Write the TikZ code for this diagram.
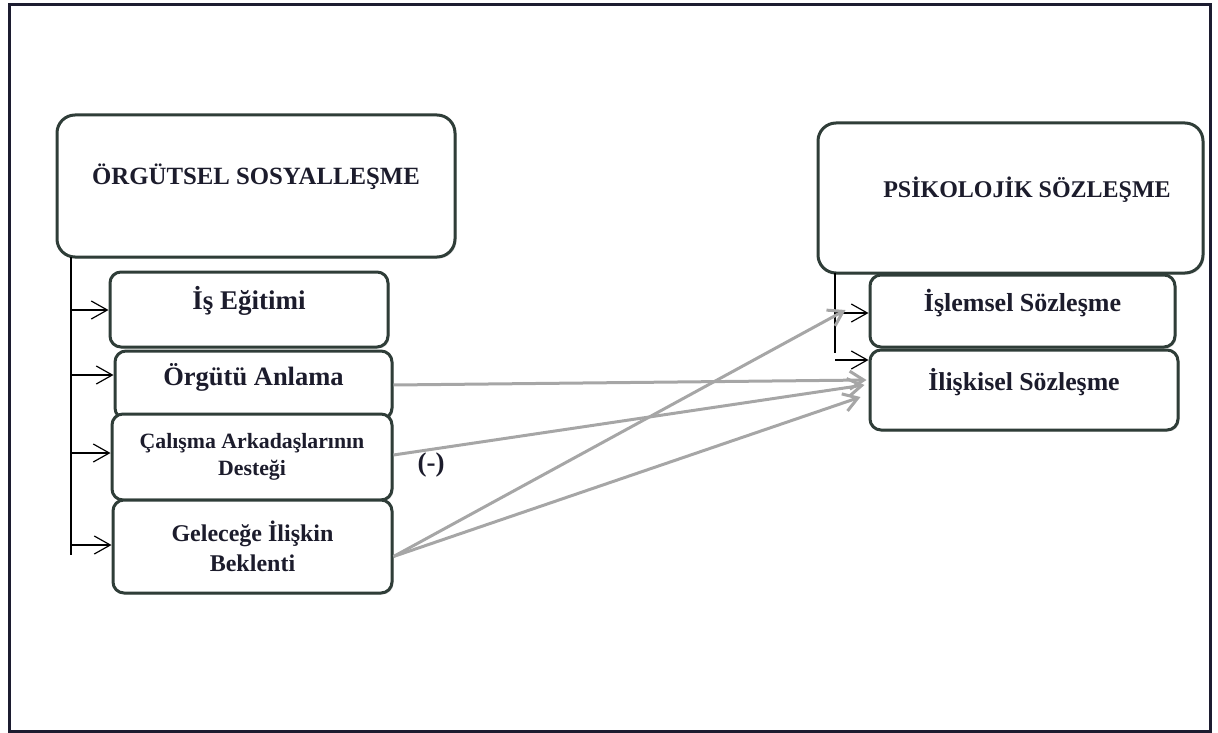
\documentclass[tikz,border=0pt]{standalone}
\usepackage{fontspec}
\setmainfont{Liberation Serif}
\usetikzlibrary{arrows.meta,shadows,calc}
\definecolor{boxline}{HTML}{2F3D38}
\definecolor{inkc}{HTML}{1C1C2C}
\definecolor{framec}{HTML}{1C1C30}
\definecolor{linkc}{HTML}{A6A6A6}
\begin{document}
\begin{tikzpicture}[x=1pt,y=-1pt,
  bigbox/.style={draw=boxline,line width=3pt,rounded corners=18pt,fill=white,
    drop shadow={shadow xshift=1.5pt,shadow yshift=-1.5pt,opacity=0.3,fill=gray},
    inner sep=0pt},
  subbox/.style={draw=boxline,line width=3pt,rounded corners=11pt,fill=white,
    drop shadow={shadow xshift=1.5pt,shadow yshift=-1.5pt,opacity=0.3,fill=gray},
    inner sep=0pt,align=center,text=inkc,font=\bfseries\fontsize{26.5}{30}\selectfont},
  oneline/.style={text height=13pt,text depth=13pt},
  title/.style={text=inkc,font=\bfseries\fontsize{24.8}{28}\selectfont,inner sep=0pt},
  feed/.style={draw=black,line width=1.2pt,-{Straight Barb[length=16pt,width=18pt,line width=1.2pt]}},
  link/.style={draw=linkc,line width=3pt,-{Straight Barb[length=14pt,width=18pt,line width=3pt]}},
  trunk/.style={draw=black,line width=1.2pt}]
\useasboundingbox (0,0) rectangle (1218,733);
% outer frame
\draw[framec,line width=3pt] (9,5) rectangle (1210,731);

% left group
\node[bigbox,minimum width=398pt,minimum height=142pt] (os) at (256,186) {};
\node[title] (ostxt) at (256,177) {ÖRGÜTSEL SOSYALLEŞME};
\node[subbox,oneline,minimum width=278pt,minimum height=75pt,font=\bfseries\fontsize{27}{30}\selectfont] (is) at (249,309.5) {İş Eğitimi};
\node[subbox,oneline,minimum width=277pt,minimum height=68pt] (org) at (253.5,385) {Örgütü Anlama};
\node[subbox,minimum width=280pt,minimum height=86pt,font=\bfseries\fontsize{21.8}{27}\selectfont] (cal) at (252,457) {Çalışma Arkadaşlarının\\Desteği};
\node[subbox,minimum width=279pt,minimum height=93pt,font=\bfseries\fontsize{24}{30}\selectfont] (gel) at (252.5,546.5) {Geleceğe İlişkin\\Beklenti};

% right group
\node[bigbox,minimum width=385pt,minimum height=150pt] (ps) at (1010.5,198) {};
\node[title,font=\bfseries\fontsize{24}{28}\selectfont] (pstxt) at (1027,190) {PSİKOLOJİK SÖZLEŞME};
\node[subbox,oneline,minimum width=305pt,minimum height=72pt,font=\bfseries\fontsize{26}{30}\selectfont] (isl) at (1022.5,311) {İşlemsel Sözleşme};
\node[subbox,oneline,minimum width=308pt,minimum height=80pt,font=\bfseries\fontsize{25.8}{30}\selectfont] (ili) at (1024,390) {İlişkisel Sözleşme};

% left trunk with branch arrows
\coordinate (lt) at (71,257);
\coordinate (lb) at (71,555);
\coordinate (l1) at (71,310);
\coordinate (l2) at (71,375);
\coordinate (l3) at (71,453);
\coordinate (l4) at (71,545);
\draw[trunk] (lt) -- (lb);
\draw[feed] (l1) -- (l1 -| is.west);
\draw[feed] (l2) -- (l2 -| org.west);
\draw[feed] (l3) -- (l3 -| cal.west);
\draw[feed] (l4) -- (l4 -| gel.west);

% right trunk with branch arrows
\coordinate (rt) at (835,273);
\coordinate (rb) at (835,353);
\coordinate (r1) at (835,313);
\coordinate (r2) at (835,360);
\draw[trunk] (rt) -- (rb);
\draw[feed] (r1) -- (r1 -| isl.west);
\draw[feed] (r2) -- (r2 -| ili.west);

% relations between dimensions
\draw[link] (org.east) -- ($(ili.west)+(-2,-10)$);
\draw[link] ($(cal.east)+(0,-2)$) -- ($(ili.west)+(-4,-5)$);
\draw[link] ($(gel.east)+(0,10)$) -- ($(isl.west)+(-23,-1)$);
\draw[link] ($(gel.east)+(0,10)$) -- ($(ili.west)+(-8,7)$);
\node[text=inkc,font=\bfseries\fontsize{27}{30}\selectfont] (neg) at (431,465) {(-)};
\end{tikzpicture}
\end{document}
